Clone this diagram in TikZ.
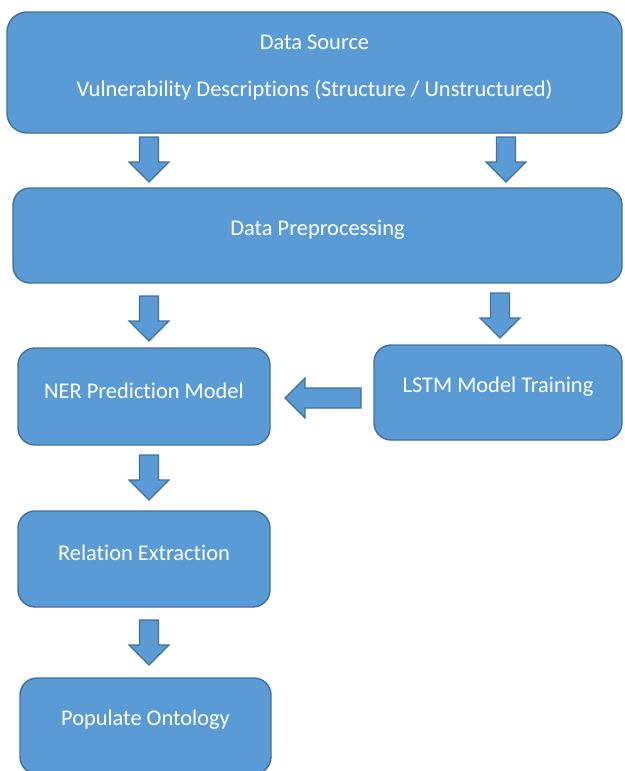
\documentclass[tikz,border=0pt]{standalone}
\usepackage{fontspec}
\setmainfont[Ligatures=NoCommon]{Carlito}
\definecolor{boxfill}{HTML}{5B9BD5}
\definecolor{boxline}{HTML}{41719C}
% block arrow pointing down, (#1,#2) = top centre
\newcommand\arrowdown[2]{%
  \draw[blockarrow] (#1,#2) ++(-9.5,0) -- ++(19,0) -- ++(0,25) -- ++(10.5,0)
    -- ++(-20,20) -- ++(-20,-20) -- ++(10.5,0) -- cycle;}

\begin{document}
\begin{tikzpicture}[x=1pt,y=-1pt,
    stagebox/.style={draw=boxline,line width=1.4pt,fill=boxfill,rounded corners=17pt,inner sep=0pt},
    boxtext/.style={text=white,font=\fontsize{22.4}{26.9}\selectfont,align=center,yshift=6pt},
    blockarrow/.style={draw=boxline,line width=1.1pt,fill=boxfill,line join=miter}]
  \useasboundingbox (0,0) rectangle (624,771);
    % stages
    \node[stagebox,minimum width=615pt,minimum height=121pt,rounded corners=20pt,
      label={[boxtext,yshift=-1pt]center:{Data Source\\[20.1pt]Vulnerability Descriptions (Structure / Unstructured)}}]
      (source) at (314.5,72.5){};
    \node[stagebox,minimum width=609pt,minimum height=95pt,
      label={[boxtext]center:Data Preprocessing}] (prep) at (317.5,235.5){};
    \node[stagebox,minimum width=252pt,minimum height=97pt,
      label={[boxtext]center:NER Prediction Model}] (ner) at (144,396.5){};
    \node[stagebox,minimum width=248pt,minimum height=95pt,
      label={[boxtext]center:LSTM Model Training}] (lstm) at (498,392.5){};
    \node[stagebox,minimum width=252pt,minimum height=96pt,
      label={[boxtext]center:Relation Extraction}] (rel) at (144,559){};
    \node[stagebox,minimum width=251pt,minimum height=96pt,
      label={[boxtext]center:Populate Ontology}] (onto) at (145.5,726){};
    % arrows
    \arrowdown{149}{137}
    \arrowdown{506}{137}
    \arrowdown{149}{296}
    \arrowdown{500}{293}
    \arrowdown{149}{455}
    \arrowdown{149}{620}
    \draw[blockarrow] (361,388) -- (361,408) -- (305,408) -- (305,418)
      -- (285,398) -- (305,378) -- (305,388) -- cycle;
\end{tikzpicture}
\end{document}
